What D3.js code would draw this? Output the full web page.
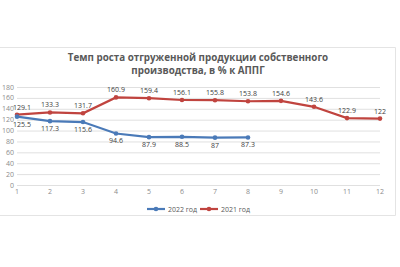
<!DOCTYPE html>
<html lang="ru">
<head>
  <meta charset="UTF-8">
  <title>Темп роста отгруженной продукции</title>
  <script src="https://d3js.org/d3.v7.min.js"></script>
  <style>
    body { margin: 0; background: #fff; }
    svg { display: block; font-family: 'Open Sans', 'Liberation Sans', sans-serif; }
    .grid line { stroke: #e0e0e0; stroke-width: 1; }
    .grid path { display: none; }
    .lbl { fill: #404040; font-size: 7px; }
  </style>
</head>
<body>
  <svg id="chart" width="400" height="267"></svg>
  <script>
    // данные
    const months = [1, 2, 3, 4, 5, 6, 7, 8, 9, 10, 11, 12];
    const y2022 = [125.5, 117.3, 115.6, 94.6, 87.9, 88.5, 87, 87.3];
    const y2021 = [129.1, 133.3, 131.7, 160.9, 159.4, 156.1, 155.8, 153.8, 154.6, 143.6, 122.9, 122];
    const yTicks = [0, 20, 40, 60, 80, 100, 120, 140, 160, 180];
    const seriesNames = ["2022 год", "2021 год"];
    const colors = ["#4a7ab8", "#c0443f"];

    const svg = d3.select("#chart");

    // рамка области диаграммы
    svg.append("path")
      .attr("d", "M0,47.5 H395.5 V215.5 H0")
      .attr("fill", "none")
      .attr("stroke", "#e4e4e4");

    const x = d3.scaleLinear().domain([1, 12]).range([17, 380]);
    const y = d3.scaleLinear().domain([0, 180]).range([185, 87]);

    // сетка
    svg.append("g")
      .attr("class", "grid")
      .attr("transform", "translate(17,0)")
      .call(d3.axisLeft(y).tickValues(yTicks).tickSize(-363).tickFormat(""));

    // подписи оси Y
    svg.append("g").selectAll("text")
      .data(yTicks)
      .join("text")
      .attr("x", 14)
      .attr("y", d => y(d) + 2.5)
      .attr("text-anchor", "end")
      .attr("fill", "#8c8c8c")
      .attr("font-size", 7)
      .text(d => d);

    // подписи оси X
    svg.append("g").selectAll("text")
      .data(months)
      .join("text")
      .attr("x", d => x(d))
      .attr("y", 194)
      .attr("text-anchor", "middle")
      .attr("fill", "#8c8c8c")
      .attr("font-size", 7)
      .text(d => d);

    // заголовок
    const title = svg.append("text")
      .attr("text-anchor", "middle")
      .attr("fill", "#595959")
      .attr("font-weight", "bold")
      .attr("font-size", 9.8);
    title.append("tspan").attr("x", 198).attr("y", 61).text("Темп роста отгруженной продукции собственного");
    title.append("tspan").attr("x", 198).attr("y", 74).text("производства, в % к АППГ");

    const line = d3.line().x((d, i) => x(months[i])).y(d => y(d));

    function drawSeries(vals, color, above) {
      svg.append("path")
        .datum(vals)
        .attr("fill", "none")
        .attr("stroke", color)
        .attr("stroke-width", 2.2)
        .attr("d", line);
      svg.append("g").selectAll("circle")
        .data(vals)
        .join("circle")
        .attr("cx", (d, i) => x(months[i]))
        .attr("cy", d => y(d))
        .attr("r", 2.3)
        .attr("fill", color);
      svg.append("g").selectAll("text")
        .data(vals)
        .join("text")
        .attr("class", "lbl")
        .attr("x", (d, i) => x(months[i]) + (i === 0 ? 5 : 0))
        .attr("y", d => above ? y(d) - 5 : y(d) + 10)
        .attr("text-anchor", "middle")
        .text(d => d);
    }

    drawSeries(y2021, colors[1], true);
    drawSeries(y2022, colors[0], false);

    // легенда
    const legend = svg.append("g");
    const lx = [147, 200];
    seriesNames.forEach((name, i) => {
      legend.append("line")
        .attr("x1", lx[i]).attr("x2", lx[i] + 18)
        .attr("y1", 209).attr("y2", 209)
        .attr("stroke", colors[i]).attr("stroke-width", 2.2);
      legend.append("circle")
        .attr("cx", lx[i] + 9).attr("cy", 209).attr("r", 2.3)
        .attr("fill", colors[i]);
      legend.append("text")
        .attr("x", lx[i] + 21).attr("y", 211.5)
        .attr("fill", "#595959").attr("font-size", 7)
        .text(name);
    });
  </script>
</body>
</html>
